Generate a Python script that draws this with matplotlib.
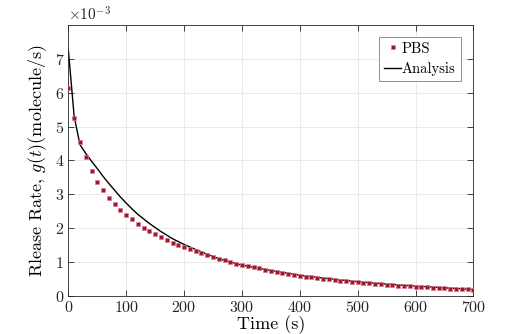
import numpy as np
import matplotlib
matplotlib.use("Agg")
import matplotlib.pyplot as plt
from matplotlib.ticker import ScalarFormatter

plt.rcParams['font.family'] = 'serif'
plt.rcParams['font.serif'] = ['cmr10']
plt.rcParams['mathtext.fontset'] = 'cm'
plt.rcParams['axes.formatter.use_mathtext'] = True
plt.rcParams['axes.unicode_minus'] = True

# PBS data (units of 1e-3 molecule/s), every 10 s
pbs_time = np.arange(0, 701, 10)
pbs_rate = np.array([
    6.15, 5.26, 4.56, 4.09, 3.69, 3.37, 3.13, 2.90, 2.72, 2.54,
    2.40, 2.26, 2.13, 2.02, 1.93, 1.83, 1.74, 1.65, 1.57, 1.50,
    1.44, 1.38, 1.32, 1.27, 1.22, 1.16, 1.10, 1.05, 1.00, 0.95,
    0.92, 0.88, 0.84, 0.81, 0.77, 0.74, 0.72, 0.69, 0.66, 0.62,
    0.60, 0.57, 0.55, 0.53, 0.51, 0.49, 0.47, 0.45, 0.44, 0.42,
    0.41, 0.39, 0.37, 0.35, 0.34, 0.33, 0.31, 0.30, 0.29, 0.28,
    0.27, 0.26, 0.25, 0.24, 0.23, 0.22, 0.21, 0.21, 0.20, 0.19,
    0.18]) * 1e-3

# Analysis curve
ana_time = [0, 10, 20, 30, 40, 50, 60, 70, 80, 90, 100, 110, 120, 140, 160, 180,
            200, 220, 240, 260, 280, 300, 350, 400, 450, 500, 550, 600, 650, 700]
ana_rate = np.array([7.25, 5.30, 4.47, 4.21, 3.98, 3.76, 3.53, 3.32, 3.12, 2.92,
                     2.74, 2.57, 2.41, 2.14, 1.90, 1.69, 1.52, 1.37, 1.23, 1.10,
                     1.00, 0.91, 0.75, 0.61, 0.51, 0.42, 0.35, 0.29, 0.24, 0.19]) * 1e-3

x_ticks = [0, 100, 200, 300, 400, 500, 600, 700]
y_ticks = np.arange(0, 8) * 1e-3

fig = plt.figure(figsize=(5.26, 3.34), dpi=100)
ax = fig.add_axes([0.130, 0.114, 0.770, 0.811])

ax.plot(pbs_time, pbs_rate, linestyle='none', marker='s', markersize=3.2,
        markerfacecolor='#A2142F', markeredgecolor='#D4808F', markeredgewidth=0.5,
        label='PBS', zorder=3)
ax.plot(ana_time, ana_rate, color='black', lw=1.0, label='Analysis', zorder=2)

ax.set_xlim(0, 700)
ax.set_ylim(0, 8e-3)
ax.set_xticks(x_ticks)
ax.set_yticks(y_ticks)
fmt = ScalarFormatter(useMathText=True)
fmt.set_powerlimits((-3, -3))
ax.yaxis.set_major_formatter(fmt)

ax.grid(True, color='#e6e6e6', lw=0.6)
ax.set_axisbelow(True)
for s in ax.spines.values():
    s.set_color('#262626')
    s.set_linewidth(0.6)
ax.tick_params(direction='in', top=True, right=True, length=4, width=0.6,
               colors='#262626', labelsize=11.5, pad=3)
ax.yaxis.get_offset_text().set_fontsize(11)

ax.set_xlabel('Time (s)', fontsize=13, labelpad=0)
ax.set_ylabel(r'Rlease Rate, $g(t)$(molecule/s)', fontsize=13, labelpad=4)

leg = ax.legend(loc='upper right', bbox_to_anchor=(0.969, 0.957), fontsize=10.5,
                fancybox=False, edgecolor='#808080', framealpha=1,
                handlelength=1.1, handletextpad=0.1, borderpad=0.35,
                labelspacing=0.45, borderaxespad=0)
leg.get_frame().set_linewidth(0.6)

fig.savefig('out.png', dpi=100)
